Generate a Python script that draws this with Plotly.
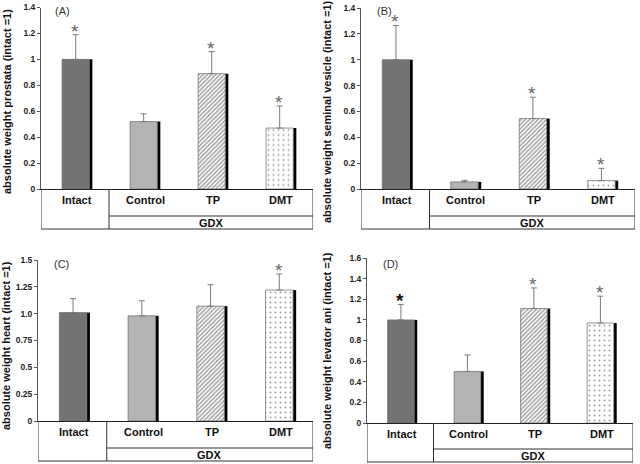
import plotly.graph_objects as go

# ---------------- data ----------------
categories = ["Intact", "Control", "TP", "DMT"]
group_label = "GDX"

prostata_vals = [1.00, 0.52, 0.89, 0.47]
prostata_err = [0.19, 0.06, 0.17, 0.17]
prostata_sig = [True, False, True, True]

vesicle_vals = [1.00, 0.055, 0.545, 0.065]
vesicle_err = [0.265, 0.012, 0.165, 0.095]
vesicle_sig = [True, False, True, True]

heart_vals = [1.01, 0.98, 1.07, 1.22]
heart_err = [0.13, 0.14, 0.20, 0.15]
heart_sig = [False, False, False, True]

levator_vals = [1.00, 0.50, 1.11, 0.97]
levator_err = [0.15, 0.16, 0.20, 0.26]
levator_sig = [True, False, True, True]

std_tickvals = [0, 0.2, 0.4, 0.6, 0.8, 1.0, 1.2, 1.4, 1.6]
std_ticktext = ["0", "0.2", "0.4", "0.6", "0.8", "1", "1.2", "1.4", "1.6"]
heart_tickvals = [0, 0.25, 0.5, 0.75, 1.0, 1.25, 1.5]
heart_ticktext = ["0", "0.25", "0.5", "0.75", "1.0", "1.25", "1.5"]

titles = [
    "absolute weight prostata (intact =1)",
    "absolute weight seminal vesicle (intact =1)",
    "absolute weight heart (intact =1)",
    "absolute weight levator ani (intact =1)",
]
panel_labels = ["(A)", "(B)", "(C)", "(D)"]

# ---------------- style / layout ----------------
W, H = 640, 464
FONT = "Liberation Sans, Arial, sans-serif"
bar_colors = ["#737373", "#b3b3b3", "#ffffff", "#ffffff"]
pattern_shapes = ["", "", "/", "."]
pattern_fg = ["#737373", "#b3b3b3", "#666666", "#858585"]
pattern_size = [6, 6, 3, 5]
pattern_solid = [0.3, 0.3, 0.5, 0.13]

# pixel geometry
geom = [
    dict(xl=41, xr=313, y0=189, yt=7.5, tb=229, td=216, ty=200, gy=222.5, lx=53, ly=11, tx=7, tyc=102),
    dict(xl=361, xr=635, y0=189, yt=8, tb=229, td=216, ty=200, gy=222.5, lx=375, ly=11, tx=327, tyc=112),
    dict(xl=38, xr=313, y0=421, yt=260, tb=461, td=448, ty=432, gy=455, lx=52, ly=264, tx=6, tyc=346),
    dict(xl=367, xr=633, y0=423, yt=258, tb=462, td=449, ty=434, gy=456, lx=381, ly=264, tx=327, tyc=351),
]
ranges = [[0, 1.4001], [0, 1.4001], [0, 1.5001], [0, 1.6001]]

panels = [
    (prostata_vals, prostata_err, prostata_sig),
    (vesicle_vals, vesicle_err, vesicle_sig),
    (heart_vals, heart_err, heart_sig),
    (levator_vals, levator_err, levator_sig),
]

def px2x(px):
    return px / W

def py2y(py):
    return 1 - py / H

fig = go.Figure()
shapes = []
annotations = []

OFF = -0.19
WC = 0.40
WS = 0.045  # black shadow strip width

for i, ((vals, errs, sig), g) in enumerate(zip(panels, geom)):
    n = "" if i == 0 else str(i + 1)
    xa, ya = "x" + n, "y" + n
    # black shadow strip (right edge)
    fig.add_trace(go.Bar(
        x=categories, y=vals, xaxis=xa, yaxis=ya,
        marker=dict(color="#000000", line=dict(width=0)),
        width=[WS] * 4, offset=[OFF + WC] * 4, showlegend=False, hoverinfo="skip",
    ))
    # coloured bar
    fig.add_trace(go.Bar(
        x=categories, y=vals, xaxis=xa, yaxis=ya,
        marker=dict(
            color=bar_colors,
            line=dict(color="#6a6a6a", width=0.7),
            pattern=dict(shape=pattern_shapes, fgcolor=pattern_fg,
                         size=pattern_size, solidity=pattern_solid,
                         fillmode="overlay"),
        ),
        width=[WC] * 4, offset=[OFF] * 4, showlegend=False,
        error_y=dict(type="data", array=errs, arrayminus=[0] * 4, symmetric=False,
                     color="#7a7a7a", thickness=1, width=3),
    ))

    xd = [px2x(g["xl"]), px2x(g["xr"])]
    yd = [py2y(g["y0"]), py2y(g["yt"])]
    yaxis = dict(
        domain=yd, range=ranges[i], anchor=xa, showline=True, linecolor="#555555",
        linewidth=1, ticks="outside", ticklen=3, tickcolor="#555555", showgrid=False,
        zeroline=False, automargin=False, ticklabeloverflow="allow",
        tickfont=dict(family=FONT, size=8.5, color="#222222", weight="bold"),
    )
    if i == 2:
        yaxis.update(tickmode="array", tickvals=heart_tickvals, ticktext=heart_ticktext)
    else:
        yaxis.update(tickmode="array", tickvals=std_tickvals, ticktext=std_ticktext)
    xaxis = dict(
        domain=xd, range=[-0.5, 3.5], anchor=ya, showline=True, linecolor="#222222",
        linewidth=1, showticklabels=False, ticks="", showgrid=False, zeroline=False,
        automargin=False,
    )
    fig.layout["xaxis" + n] = xaxis
    fig.layout["yaxis" + n] = yaxis

    # y title as rotated annotation
    annotations.append(dict(x=px2x(g["tx"]), xref="paper", y=py2y(g["tyc"]), yref="paper",
                            text=titles[i], textangle=-90, showarrow=False,
                            xanchor="center", yanchor="middle",
                            font=dict(family=FONT, size=11, color="#111111", weight="bold")))

    # table
    ytop, ybot, ydiv = py2y(g["y0"]), py2y(g["tb"]), py2y(g["td"])
    lc = dict(color="#333333", width=1)
    for x in [-0.5, 0.5, 3.5]:
        shapes.append(dict(type="line", xref=xa, yref="paper", x0=x, x1=x, y0=ytop, y1=ybot, line=lc))
    shapes.append(dict(type="line", xref=xa, yref="paper", x0=-0.5, x1=3.5, y0=ybot, y1=ybot, line=lc))
    shapes.append(dict(type="line", xref=xa, yref="paper", x0=0.5, x1=3.5, y0=ydiv, y1=ydiv, line=lc))

    for c in categories:
        annotations.append(dict(x=c, xref=xa, y=py2y(g["ty"]), yref="paper", text=c,
                                showarrow=False, xshift=2, xanchor="center", yanchor="middle",
                                font=dict(family=FONT, size=11, color="#111111", weight="bold")))
    annotations.append(dict(x=2, xref=xa, y=py2y(g["gy"]), yref="paper", text=group_label,
                            showarrow=False, xanchor="center", yanchor="middle",
                            font=dict(family=FONT, size=11, color="#111111", weight="bold")))
    # panel label
    annotations.append(dict(x=px2x(g["lx"]), xref="paper", y=py2y(g["ly"]), yref="paper",
                            text=panel_labels[i], showarrow=False, xanchor="left", yanchor="middle",
                            font=dict(family=FONT, size=11, color="#333333")))
    # significance asterisks
    for j, (c, v, e, s) in enumerate(zip(categories, vals, errs, sig)):
        if s:
            dark = (i == 3 and j == 0)
            annotations.append(dict(
                x=c, xref=xa, y=v + e, yref=ya, text="*", showarrow=False,
                xanchor="center", yanchor="bottom", yshift=-9,
                font=dict(family=FONT, size=19, color="#111111" if dark else "#666666",
                          weight="bold" if dark else "normal")))

fig.update_layout(
    width=W, height=H, autosize=False,
    margin=dict(l=0, r=0, t=0, b=0, pad=0),
    paper_bgcolor="white", plot_bgcolor="white",
    barmode="overlay", showlegend=False,
    shapes=shapes, annotations=annotations,
    font=dict(family=FONT),
)

fig.write_html(
    "out.html",
    config={"displayModeBar": False},
    post_script="document.body.style.margin='0';document.body.style.padding='0';"
                "document.body.style.overflow='hidden';",
)
